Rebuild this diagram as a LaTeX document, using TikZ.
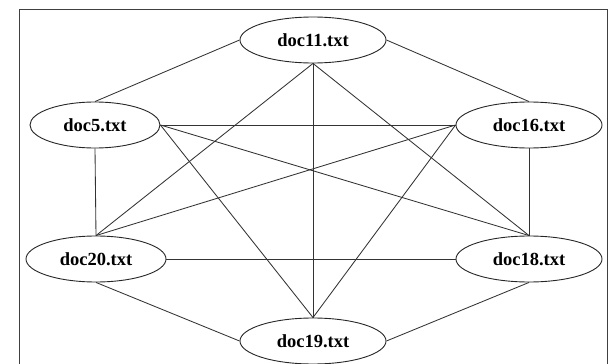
\documentclass[tikz,border=0pt]{standalone}
\usepackage{fontspec}
\setmainfont{Liberation Serif}
\usetikzlibrary{shapes.geometric}
\begin{document}
\begin{tikzpicture}[x=1pt,y=-1pt,
  doc/.style={ellipse,draw=black!85,line width=0.9pt,fill=white,inner sep=0pt,
    minimum width=146pt,minimum height=46pt,font=\fontsize{18.5}{20}\selectfont\bfseries},
  edge/.style={draw=black!80,line width=0.85pt}]
\useasboundingbox (0,0) rectangle (614,364);
\draw[black!75,line width=1pt] (19.5,370) -- (19.5,9.5) -- (607.5,9.5) -- (607.5,370);
\node[doc] (d11) at (313,40) {doc11.txt};
\node[doc,minimum width=130pt] (d5) at (95,125) {doc5.txt};
\node[doc] (d16) at (529,125) {doc16.txt};
\node[doc,minimum width=140pt] (d20) at (96,259) {doc20.txt};
\node[doc] (d18) at (529,259) {doc18.txt};
\node[doc] (d19) at (313,341) {doc19.txt};
\draw[edge] (d11.west) -- (d5.north);
\draw[edge] (d11.east) -- (d16.north);
\draw[edge] (d11.south) -- (d20.north);
\draw[edge] (d11.south) -- (d19.north);
\draw[edge] (d11.south) -- (d18.north);
\draw[edge] (d5.east) -- (d16.west);
\draw[edge] (d5.east) -- (d18.north);
\draw[edge] (d5.east) -- (d19.north);
\draw[edge] (d5.south) -- (d20.north);
\draw[edge] (d16.west) -- (d20.north);
\draw[edge] (d16.west) -- (d19.north);
\draw[edge] (d16.south) -- (d18.north);
\draw[edge] (d20.east) -- (d18.west);
\draw[edge] (d20.south) -- (d19.west);
\draw[edge] (d18.south) -- (d19.east);
\end{tikzpicture}
\end{document}
